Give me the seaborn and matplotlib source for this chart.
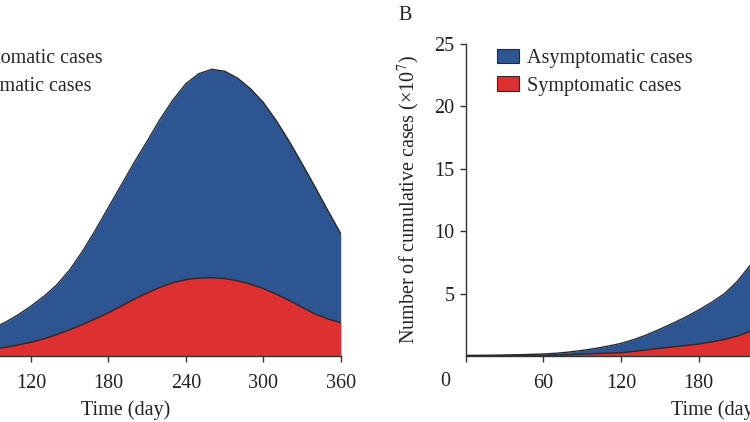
import matplotlib
matplotlib.use("Agg")
import matplotlib.pyplot as plt
import seaborn as sns
import pandas as pd

# jours (pas de 10 jours)
days = list(range(0, 361, 10))

# panneau A : cas journaliers
daily_asym = [0.10, 0.17, 0.26, 0.40, 0.58, 0.82, 1.10, 1.42, 1.78, 2.20,
              2.70, 3.30, 4.00, 4.78, 5.70, 6.90, 8.40, 10.10, 11.90, 13.70,
              15.50, 17.20, 18.95, 20.50, 21.80, 22.60, 22.95, 22.80, 22.25, 21.40,
              20.30, 18.85, 17.20, 15.40, 13.55, 11.65, 9.80]
daily_sym = [0.02, 0.04, 0.07, 0.10, 0.15, 0.21, 0.28, 0.36, 0.45, 0.55,
             0.70, 0.88, 1.10, 1.38, 1.72, 2.10, 2.52, 2.98, 3.47, 4.00,
             4.55, 5.05, 5.50, 5.87, 6.11, 6.24, 6.27, 6.20, 6.02, 5.75,
             5.40, 4.95, 4.45, 3.90, 3.37, 2.97, 2.67]

# panneau B : cas cumulés (x10^7)
cum_asym = [0.05, 0.055, 0.065, 0.08, 0.10, 0.13, 0.16, 0.22, 0.32, 0.45,
            0.60, 0.79, 1.01, 1.32, 1.70, 2.15, 2.62, 3.12, 3.68, 4.30,
            5.00, 6.00, 7.30, 8.70, 10.2, 11.9, 13.6, 15.4, 17.0, 18.6,
            20.2, 21.6, 22.8, 23.6, 24.1, 24.5, 24.8]
cum_sym = [0.02, 0.02, 0.025, 0.03, 0.035, 0.04, 0.05, 0.07, 0.10, 0.15,
           0.19, 0.23, 0.27, 0.37, 0.50, 0.62, 0.73, 0.84, 0.96, 1.13,
           1.33, 1.60, 1.98, 2.45, 2.90, 3.40, 3.85, 4.30, 4.80, 5.20,
           5.60, 5.95, 6.25, 6.50, 6.70, 6.85, 7.00]

xticks = [0, 60, 120, 180, 240, 300, 360]
yticks = [5, 10, 15, 20, 25]

blue = "#2c5591"
red = "#de3030"
edge = "#2a2a2a"
FS = 14.5

sns.set_theme(style="ticks")
plt.rcParams["font.family"] = ["Liberation Serif", "DejaVu Serif"]
plt.rcParams["mathtext.fontset"] = "stix"
plt.rcParams["font.size"] = FS

df_a = pd.DataFrame({"day": days, "asym": daily_asym, "sym": daily_sym})
df_b = pd.DataFrame({"day": days, "asym": cum_asym, "sym": cum_sym})

fig = plt.figure(figsize=(7.5, 4.22), dpi=100)
ax_a = fig.add_axes([-0.165, 0.1564, 0.6193, 0.740])
ax_b = fig.add_axes([0.621, 0.1564, 0.6213, 0.740])


def draw_panel(ax, df, show_ylabels):
    ax.fill_between(df["day"], 0, df["asym"], color=blue, lw=0, label="Asymptomatic cases")
    ax.fill_between(df["day"], 0, df["sym"], color=red, lw=0, label="Symptomatic cases")
    sns.lineplot(data=df, x="day", y="asym", ax=ax, color=edge, lw=1.0, legend=False)
    sns.lineplot(data=df, x="day", y="sym", ax=ax, color=edge, lw=1.0, legend=False)

    ax.set_xlim(0, 360)
    ax.set_ylim(0, 25)
    ax.set_xticks(xticks)
    ax.set_xticklabels([""] + [str(t) for t in xticks[1:]])
    ax.set_yticks(yticks)
    if not show_ylabels:
        ax.set_yticklabels([])
    ax.tick_params(axis="both", direction="out", length=4, width=1, colors="#333333",
                   labelsize=FS, labelcolor="#222222")
    ax.tick_params(axis="x", pad=9)
    ax.tick_params(axis="y", pad=4)
    for s in ["top", "right"]:
        ax.spines[s].set_visible(False)
    for s in ["left", "bottom"]:
        ax.spines[s].set_color("#333333")
        ax.spines[s].set_linewidth(1)

    ax.set_xlabel("Time (day)", fontsize=FS, color="#222222")
    ax.xaxis.set_label_coords(0.536, -0.141)
    ax.set_ylabel("")

    ax.text(-0.044, -0.083, "0", transform=ax.transAxes, ha="center", va="center",
            fontsize=FS, color="#222222")

    leg = ax.legend(loc="upper left", bbox_to_anchor=(0.066, 0.982), frameon=False,
                    borderaxespad=0, borderpad=0, handlelength=1.1, handleheight=0.7,
                    handletextpad=0.4, labelspacing=0.4, fontsize=FS)
    for h in leg.legend_handles:
        h.set_edgecolor(edge)
        h.set_linewidth(0.8)


draw_panel(ax_a, df_a, False)
draw_panel(ax_b, df_b, True)

ax_b.set_ylabel("Number of cumulative cases (\u00d710$^{7}$)", fontsize=FS, color="#222222")
ax_b.yaxis.set_label_coords(-0.094, 0.5)

fig.text(405 / 750, 1 - 15 / 422, "B", ha="center", va="center", fontsize=FS, color="#222222")

fig.savefig("out.png", dpi=100)
